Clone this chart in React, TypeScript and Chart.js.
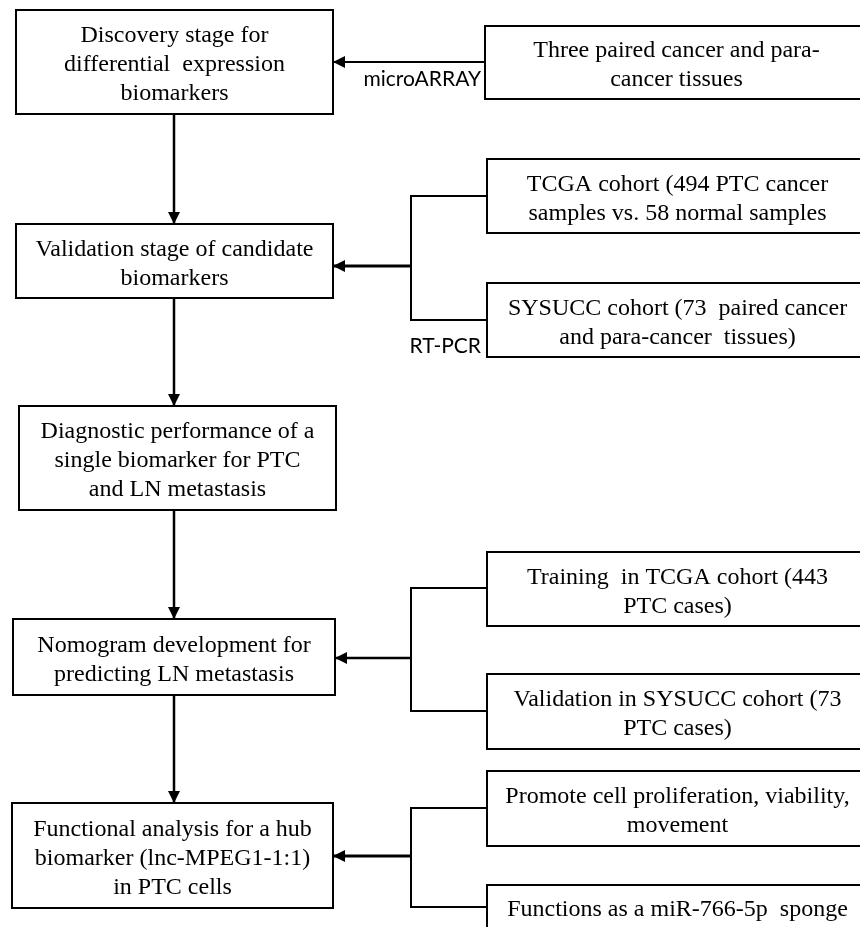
import React, { useEffect, useRef } from "react";
import { Chart, registerables } from "chart.js";

Chart.register(...registerables);

// ---- Data (flowchart nodes in chart units on 0..860 x 0..927 scales) ----
const boxTexts: string[][] = [
  ["Discovery stage for", "differential  expression", "biomarkers"],
  ["Validation stage of candidate", "biomarkers"],
  ["Diagnostic performance of a", "single biomarker for PTC", "and LN metastasis"],
  ["Nomogram development for", "predicting LN metastasis"],
  ["Functional analysis for a hub", "biomarker (lnc-MPEG1-1:1)", "in PTC cells"],
  ["Three paired cancer and para-", "cancer tissues"],
  ["TCGA cohort (494 PTC cancer", "samples vs. 58 normal samples"],
  ["SYSUCC cohort (73  paired cancer", "and para-cancer  tissues)"],
  ["Training  in TCGA cohort (443", "PTC cases)"],
  ["Validation in SYSUCC cohort (73", "PTC cases)"],
  ["Promote cell proliferation, viability,", "movement"],
  ["Functions as a miR-766-5p  sponge"],
];
const boxLeft = [16, 16, 19, 13, 12, 485, 487, 487, 487, 487, 487, 487];
const boxTop = [10, 224, 406, 619, 803, 26, 159, 283, 552, 674, 771, 885];
const boxRight = [333, 333, 336, 335, 333, 868, 868, 868, 868, 868, 868, 868];
const boxBottom = [114, 298, 510, 695, 908, 99, 233, 357, 626, 749, 846, 929];

// arrows: polylines ending with an arrowhead
const arrowXs: number[][] = [
  [174, 174], [174, 174], [174, 174], [174, 174],
  [485, 333], [411, 333], [411, 335], [411, 333],
];
const arrowYs: number[][] = [
  [114, 224], [298, 406], [510, 619], [695, 803],
  [62, 62], [266, 266], [658, 658], [856, 856],
];
const arrowWidths = [2.5, 2.5, 2.5, 2.5, 2, 3, 2.5, 3];

// brackets (no arrowheads)
const bracketXs: number[][] = [
  [487, 411, 411, 487],
  [487, 411, 411, 487],
  [487, 411, 411, 487],
];
const bracketYs: number[][] = [
  [196, 196, 320, 320],
  [588, 588, 711, 711],
  [808, 808, 907, 907],
];

// method labels
const methodLabels = ["microARRAY", "RT-PCR"];
const methodX = [481, 481];
const methodY = [86, 353];

const X_MAX = 860;
const Y_MAX = 927;

export default function App() {
  const canvasRef = useRef<HTMLCanvasElement | null>(null);

  useEffect(() => {
    document.body.style.margin = "0";
    const canvas = canvasRef.current;
    if (!canvas) return;

    const datasets: any[] = [];
    boxTexts.forEach((_, i) => {
      datasets.push({
        data: [
          { x: boxLeft[i], y: boxTop[i] },
          { x: boxRight[i], y: boxTop[i] },
          { x: boxRight[i], y: boxBottom[i] },
          { x: boxLeft[i], y: boxBottom[i] },
          { x: boxLeft[i], y: boxTop[i] },
        ],
        borderColor: "#000",
        borderWidth: 2,
        borderCapStyle: "square",
        borderJoinStyle: "miter",
        showLine: true,
        pointRadius: 0,
        fill: false,
        tension: 0,
      });
    });
    arrowXs.forEach((xs, i) => {
      datasets.push({
        data: xs.map((x, j) => ({ x, y: arrowYs[i][j] })),
        borderColor: "#000",
        borderWidth: arrowWidths[i],
        showLine: true,
        pointRadius: 0,
        fill: false,
        tension: 0,
      });
    });
    bracketXs.forEach((xs, i) => {
      datasets.push({
        data: xs.map((x, j) => ({ x, y: bracketYs[i][j] })),
        borderColor: "#000",
        borderWidth: 2,
        borderJoinStyle: "miter",
        showLine: true,
        pointRadius: 0,
        fill: false,
        tension: 0,
      });
    });

    const flowPlugin = {
      id: "flowDecor",
      afterDatasetsDraw(chart: any) {
        const ctx = chart.ctx as CanvasRenderingContext2D;
        const xs = chart.scales.x;
        const ys = chart.scales.y;
        ctx.save();
        ctx.fillStyle = "#000";
        arrowXs.forEach((ax, i) => {
          const n = ax.length;
          const x1 = xs.getPixelForValue(ax[n - 1]);
          const y1 = ys.getPixelForValue(arrowYs[i][n - 1]);
          const x0 = xs.getPixelForValue(ax[n - 2]);
          const y0 = ys.getPixelForValue(arrowYs[i][n - 2]);
          const ang = Math.atan2(y1 - y0, x1 - x0);
          const len = 12;
          const half = 6;
          ctx.beginPath();
          ctx.moveTo(x1, y1);
          ctx.lineTo(
            x1 - len * Math.cos(ang) + half * Math.sin(ang),
            y1 - len * Math.sin(ang) - half * Math.cos(ang)
          );
          ctx.lineTo(
            x1 - len * Math.cos(ang) - half * Math.sin(ang),
            y1 - len * Math.sin(ang) + half * Math.cos(ang)
          );
          ctx.closePath();
          ctx.fill();
        });
        ctx.fillStyle = "#000";
        ctx.font = "24px 'Liberation Serif', 'Times New Roman', serif";
        ctx.textAlign = "center";
        ctx.textBaseline = "alphabetic";
        const lh = 29;
        boxTexts.forEach((lines, i) => {
          const cx = xs.getPixelForValue((boxLeft[i] + boxRight[i]) / 2);
          const cy = ys.getPixelForValue((boxTop[i] + boxBottom[i]) / 2);
          const start = cy - ((lines.length - 1) * lh) / 2 + 9;
          lines.forEach((t, j) => {
            ctx.fillText(t, cx, start + j * lh);
          });
        });
        ctx.font = "21px Lato, 'Open Sans', sans-serif";
        ctx.textAlign = "right";
        methodLabels.forEach((t, i) => {
          ctx.fillText(t, xs.getPixelForValue(methodX[i]), ys.getPixelForValue(methodY[i]));
        });
        ctx.restore();
      },
    };

    const chart = new Chart(canvas, {
      type: "scatter",
      data: { datasets },
      options: {
        animation: false,
        responsive: false,
        devicePixelRatio: 1,
        events: [],
        layout: { padding: 0 },
        plugins: { legend: { display: false }, tooltip: { enabled: false } },
        scales: {
          x: { type: "linear", min: 0, max: X_MAX, display: false },
          y: { type: "linear", min: 0, max: Y_MAX, reverse: true, display: false },
        },
      },
      plugins: [flowPlugin],
    });
    return () => chart.destroy();
  }, []);

  return (
    <div style={{ width: X_MAX, height: Y_MAX, background: "#fff" }}>
      <canvas ref={canvasRef} width={X_MAX} height={Y_MAX} style={{ display: "block" }} />
    </div>
  );
}
